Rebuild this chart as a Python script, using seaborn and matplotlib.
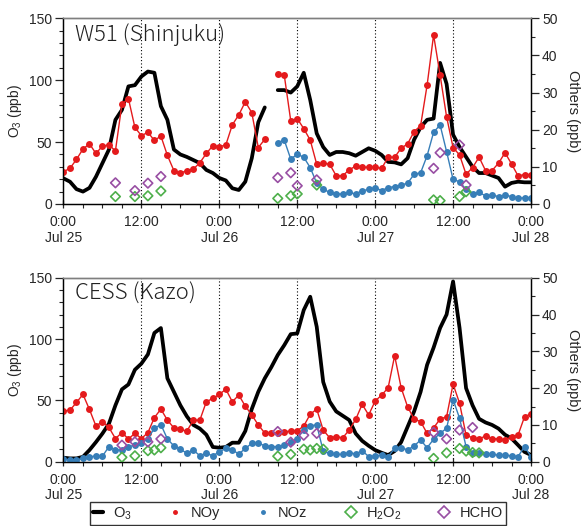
import numpy as np
import pandas as pd
import seaborn as sns
import matplotlib.pyplot as plt
from matplotlib.lines import Line2D
from matplotlib.ticker import MultipleLocator

nan = np.nan
hours = list(range(73))  # Jul 25 0:00 .. Jul 28 0:00, hourly

# ---- W51 (Shinjuku) ----
w51_o3 = [20.7, 18, 12, 10, 13, 22, 33, 44, 68, 76, 95, 96, 103, 107, 106, 79,
          68, 44, 40, 38, 35.5, 33, 27.5, 25, 21, 19, 12.7, 11.3, 18, 37, 66, 78,
          nan, 92, 92, 90, 95, 106, 84, 57, 46, 39.6, 42, 42, 41, 39, 42, 45, 43,
          39.6, 34, 33.6, 32, 37, 52, 62, 68, 69, 114, 97, 56, 46, 38, 30, 25, 25,
          23, 21, 14, 17, 18, 17.5, 17.5]
w51_noy = [8.7, 9.6, 12, 14.8, 16.2, 13.6, 15.6, 15.9, 14.3, 26.9, 28.4, 20.6,
           18.4, 19.3, 17.1, 18.3, 13.1, 9, 8.3, 9, 9.4, 11.1, 13.6, 15.7, 15.4,
           15.9, 21.3, 24, 27.5, 24.6, 15.2, 17.4, nan, 34.9, 34.7, 22.4, 23, 20.3,
           17.2, 10.7, 11, 10.7, 7.6, 7.6, 9.2, 10.2, 9.9, 9.9, 9.9, 9.6, 12.6,
           12.6, 15, 16.2, 19.5, 21.1, 32, 45.5, 34.7, 23.5, 15.2, 13.2, 8, 9.8,
           12.6, 9, 9, 11, 13.8, 10.8, 7.6, 7.9, 7.9]
w51_noz = [nan] * 33 + [16.5, 17.2, 12.1, 13.4, 12.6, 9.8, 5.6, 4, 3.1, 2.7, 2.7,
                        3.1, 2.7, 3.6, 3.9, 4.4, 3.6, 4.4, 4.7, 5.1, 5.6, 8, 8.4,
                        13, 19.3, 21.3, 14.1, 6.6, 6, 3.9, 2.7, 3.1, 2.2, 2.4, 2,
                        2.4, 2, 1.5, 1.7, 1.7]
w51_h2o2_hr = [8, 11, 13, 15, 33, 35, 36, 39, 57, 58, 61, 62]
w51_h2o2 = [2, 2, 2.2, 3.5, 1.5, 2.2, 2.7, 5.1, 1.1, 0.9, 2, 3.3]
w51_hcho_hr = [8, 11, 13, 15, 33, 35, 36, 39, 57, 58, 61, 62]
w51_hcho = [5.7, 3.6, 5.6, 7.4, 7.1, 8.4, 4.9, 6.5, 9.6, 13.8, 15.9, 5.1]

# ---- CESS (Kazo) ----
cess_o3 = [3.3, 2.7, 2.7, 4, 9.5, 16, 23, 31, 46, 59, 63, 75, 80, 87.5, 105, 109,
           68, 57, 46, 37, 30, 27, 22, 12, 11.4, 12, 15.5, 15.5, 25, 43, 57, 68,
           77, 87, 95, 104, 104.6, 123.6, 134.5, 110, 65, 49, 41, 37.5, 34, 23,
           17, 13, 9.5, 7.3, 5.4, 8.7, 16, 28.5, 41, 57, 79, 93, 109, 120, 147,
           109, 60, 46, 35, 32, 30, 27, 22, 19, 13.6, 8, 5.5]
cess_noy = [13.8, 14, 16.1, 18.3, 14.2, 9.7, 10.9, 9.3, 6.3, 7.9, 6.2, 7.7, 6.3,
            7.9, 12, 14.3, 11.3, 9.2, 8.8, 8.3, 11.3, 11.3, 16.3, 17.2, 18.3, 19.7,
            16.3, 18.1, 15.1, 12.7, 10, 7.8, 7.8, 7.7, 8.2, 8.3, 8.4, 9.7, 12.9,
            14.3, 8.6, 6.5, 6.8, 6.5, 8.6, 11.5, 15.6, 12.7, 16.5, 18.1, 20.1,
            28.8, 20.1, 14.9, 11.6, 10.9, 7.7, 9.2, 11.6, 12.2, 21.1, 15.9, 7.2,
            6.5, 6.2, 7, 6.3, 6.2, 5.9, 6.8, 7.2, 12.2, 13]
cess_noz = [0.7, 0.5, 0.5, 0.9, 1.4, 1.5, 1.5, 4.1, 3.2, 3.2, 4.1, 4.5, 5, 6.3,
            9.1, 10.1, 6.2, 4.3, 3.4, 2.3, 3.2, 1.6, 2.3, 1.6, 2.7, 3.6, 3.2, 2.1,
            3.6, 5, 5.1, 4.3, 4.1, 4.1, 4.5, 5.3, 6.3, 8.6, 9.8, 10, 2.9, 2.3, 2,
            2, 2.5, 2.1, 3, 1.4, 1.6, 1.8, 1.4, 3.6, 3.8, 3.2, 4.3, 5.9, 3.8, 6.1,
            7.7, 9.1, 16.9, 11.8, 4.1, 2.5, 2.3, 2.1, 2, 1.8, 1.8, 1.6, 1.4, 4.1,
            1.4]
cess_h2o2_hr = [9, 11, 13, 14, 15, 33, 35, 37, 38, 39, 40, 57, 59, 61, 62, 63, 64]
cess_h2o2 = [1.2, 1.6, 3, 3.2, 3.8, 1.5, 2, 3.4, 3.2, 3.6, 3.4, 0.9, 2.4, 3.6,
             2.9, 2.5, 2.4]
cess_hcho_hr = [9, 11, 13, 15, 33, 35, 37, 39, 57, 59, 61, 63]
cess_hcho = [4.5, 5.4, 5.4, 6.2, 8.2, 5.3, 7.2, 7.7, 8, 6.2, 8.6, 9.3]

xtick_pos = [0, 12, 24, 36, 48, 60, 72]
xtick_labels = ["0:00\nJul 25", "12:00", "0:00\nJul 26", "12:00",
                "0:00\nJul 27", "12:00", "0:00\nJul 28"]

sns.set_theme(style="ticks")
plt.rcParams['font.family'] = ['Liberation Sans', 'DejaVu Sans']
plt.rcParams['mathtext.default'] = 'regular'

pal = sns.color_palette("Set1")
RED, BLUE, GREEN, PURPLE = pal[0], pal[1], pal[2], pal[3]


def segments(values):
    # split a series at NaN so seaborn keeps the gaps open
    d = pd.DataFrame({"hour": hours, "val": values})
    d["seg"] = d["val"].isna().cumsum()
    return d.dropna()


def draw_panel(ax, title, o3, noy, noz, h2o2_hr, h2o2, hcho_hr, hcho):
    ax2 = ax.twinx()

    sns.lineplot(data=segments(o3), x="hour", y="val", units="seg",
                 estimator=None, color="black", lw=2.7, ax=ax)
    for series, col in [(noy, RED), (noz, BLUE)]:
        sns.lineplot(data=segments(series), x="hour", y="val", units="seg",
                     estimator=None, color=col, lw=1.0, marker="o",
                     markersize=5, markeredgewidth=0, ax=ax2)
    for hr, vals, col in [(h2o2_hr, h2o2, GREEN), (hcho_hr, hcho, PURPLE)]:
        sns.scatterplot(x=hr, y=vals, marker="D", s=24, color=col,
                        facecolors="none", edgecolor=col, linewidth=1.2,
                        ax=ax2, zorder=5)

    for xv in [12, 24, 36, 48, 60]:
        ax.axvline(xv, color="black", ls=(0, (1, 2)), lw=0.8, zorder=0)

    ax.set_xlim(0, 72)
    ax.set_ylim(0, 150)
    ax2.set_ylim(0, 50)
    ax.set_xticks(xtick_pos)
    ax.set_xticklabels(xtick_labels, linespacing=1.15)
    ax.xaxis.set_minor_locator(MultipleLocator(3))
    ax.yaxis.set_major_locator(MultipleLocator(50))
    ax.yaxis.set_minor_locator(MultipleLocator(10))
    ax2.yaxis.set_major_locator(MultipleLocator(10))
    ax2.yaxis.set_minor_locator(MultipleLocator(5))

    ax.set_xlabel("")
    ax.set_ylabel("O$_3$ (ppb)", fontsize=10, labelpad=4)
    ax2.set_ylabel("Others (ppb)", fontsize=10.5, rotation=270, labelpad=16)

    ax.tick_params(axis="x", which="major", direction="inout", length=6,
                   width=0.9, labelsize=10, pad=5)
    ax.tick_params(axis="x", which="minor", direction="out", length=3, width=0.8)
    ax.tick_params(axis="y", which="major", direction="out", length=6,
                   width=0.9, labelsize=10, pad=2)
    ax.tick_params(axis="y", which="minor", direction="out", length=3, width=0.8)
    ax2.tick_params(axis="y", which="major", direction="out", length=6,
                    width=0.9, labelsize=10, pad=2)
    ax2.tick_params(axis="y", which="minor", direction="out", length=3, width=0.8)

    for a in (ax, ax2):
        for side in ("left", "right", "bottom"):
            a.spines[side].set_color("black")
            a.spines[side].set_linewidth(0.9)
        a.spines["top"].set_visible(True)
        a.spines["top"].set_color("#7f7f7f")
        a.spines["top"].set_linewidth(1.0)
    ax2.spines["right"].set_visible(True)

    ax.text(0.025, 0.975, title, transform=ax.transAxes, ha="left", va="top",
            fontsize=16, fontweight="light", color="#222222",
            family=["Noto Sans CJK JP", "DejaVu Sans"])
    return ax2


fig = plt.figure(figsize=(5.83, 5.26), dpi=100)
ax_top = fig.add_axes([0.1089, 0.6122, 0.8019, 0.3530])
ax_bot = fig.add_axes([0.1089, 0.1222, 0.8019, 0.3498])

draw_panel(ax_top, "W51 (Shinjuku)", w51_o3, w51_noy, w51_noz,
           w51_h2o2_hr, w51_h2o2, w51_hcho_hr, w51_hcho)
draw_panel(ax_bot, "CESS (Kazo)", cess_o3, cess_noy, cess_noz,
           cess_h2o2_hr, cess_h2o2, cess_hcho_hr, cess_hcho)

handles = [
    Line2D([0], [0], color="black", lw=3),
    Line2D([0], [0], color=RED, marker="o", ls="none", markersize=2.5),
    Line2D([0], [0], color=BLUE, marker="o", ls="none", markersize=2.5),
    Line2D([0], [0], color=GREEN, marker="D", ls="none", markersize=6,
           markerfacecolor="none", markeredgewidth=1.2),
    Line2D([0], [0], color=PURPLE, marker="D", ls="none", markersize=6,
           markerfacecolor="none", markeredgewidth=1.2),
]
labels = ["O$_3$", "NOy", "NOz", "H$_2$O$_2$", "HCHO"]
leg = fig.legend(handles, labels, loc="lower center", ncol=5,
                 bbox_to_anchor=(0.511, 0.0), frameon=True, fancybox=False,
                 edgecolor="black", fontsize=10.5, handlelength=0.7,
                 handletextpad=0.7, columnspacing=2.6, borderpad=0.2,
                 borderaxespad=0.1)
leg.get_frame().set_linewidth(1.0)

fig.savefig("out.png", dpi=100)
